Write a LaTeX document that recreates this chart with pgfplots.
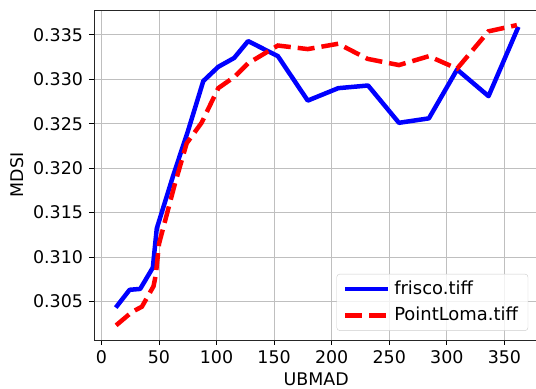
\documentclass[border=0pt]{standalone}
\usepackage{pgfplots}
\pgfplotsset{compat=1.18}
\usepackage{fontspec}
\setmainfont{DejaVu Sans}
\begin{document}
\fontsize{17.5}{20}\selectfont
\begin{tikzpicture}
\begin{axis}[
  at={(0,0)}, anchor=south west,
  scale only axis,
  width=444.4bp, height=330bp,
  xmin=-6.4, xmax=379.5,
  ymin=0.30065, ymax=0.3378,
  xtick={0,50,...,350},
  ytick={0.305,0.310,...,0.3351},
  yticklabel style={/pgf/number format/.cd,fixed,fixed zerofill,precision=3},
  /pgf/number format/assume math mode=true,
  scaled y ticks=false,
  tick align=outside,
  major tick length=5bp,
  tick style={black, line width=0.8bp},
  xtick pos=bottom, ytick pos=left,
  axis line style={line width=0.9bp, black!85},
  grid=major,
  major grid style={line width=0.8bp, color=black!25},
  xlabel={UBMAD}, ylabel={MDSI},
  xlabel style={yshift=3bp},
  ylabel style={yshift=-2bp},
  legend style={at={(0.977,0.028)}, anchor=south east, draw=black!20, rounded corners=3bp, fill=white, fill opacity=0.8, text opacity=1, inner xsep=6bp, inner ysep=6bp, row sep=8bp, font=\fontsize{18}{20}\selectfont,
    nodes={inner xsep=4bp, inner ysep=1bp}},
  legend cell align=left,
  legend image code/.code={\draw[#1] (0bp,0bp) -- (43bp,0bp);},
]
\addplot[blue, line width=4.5bp, line join=round] coordinates {
(12.5,0.3043) (24.5,0.3063) (33.7,0.3064) (44.7,0.3088) (48.1,0.3132)
(62,0.3190) (75.5,0.3243) (88.5,0.3298) (101.5,0.3314) (115.3,0.3324)
(127.4,0.3343) (153.3,0.3326) (179.2,0.3276) (205.7,0.3290) (231.6,0.3293)
(258.4,0.3251) (284.4,0.3256) (308.9,0.3311) (336.2,0.3281) (362.1,0.3359)
};
\addlegendentry{frisco.tiff}
\addplot[red, line width=4.5bp, dash pattern=on 17bp off 7bp] coordinates {
(12.8,0.3023) (26.5,0.3038) (35.2,0.3044) (45.3,0.3067) (47.3,0.3080)
(50.1,0.3115) (64,0.3183) (74.1,0.3228) (87,0.3251) (101.5,0.3290)
(115.8,0.3303) (127.4,0.3318) (153.3,0.3338) (179.2,0.3334) (205.7,0.3340)
(231.1,0.3323) (258.4,0.3316) (284.4,0.3326) (308.9,0.3312) (336.2,0.3354)
(360.8,0.3361)
};
\addlegendentry{PointLoma.tiff}
\end{axis}
\pgfresetboundingbox
\path[use as bounding box] (-94bp,-49bp) rectangle (442bp,340bp);
\end{tikzpicture}
\end{document}
